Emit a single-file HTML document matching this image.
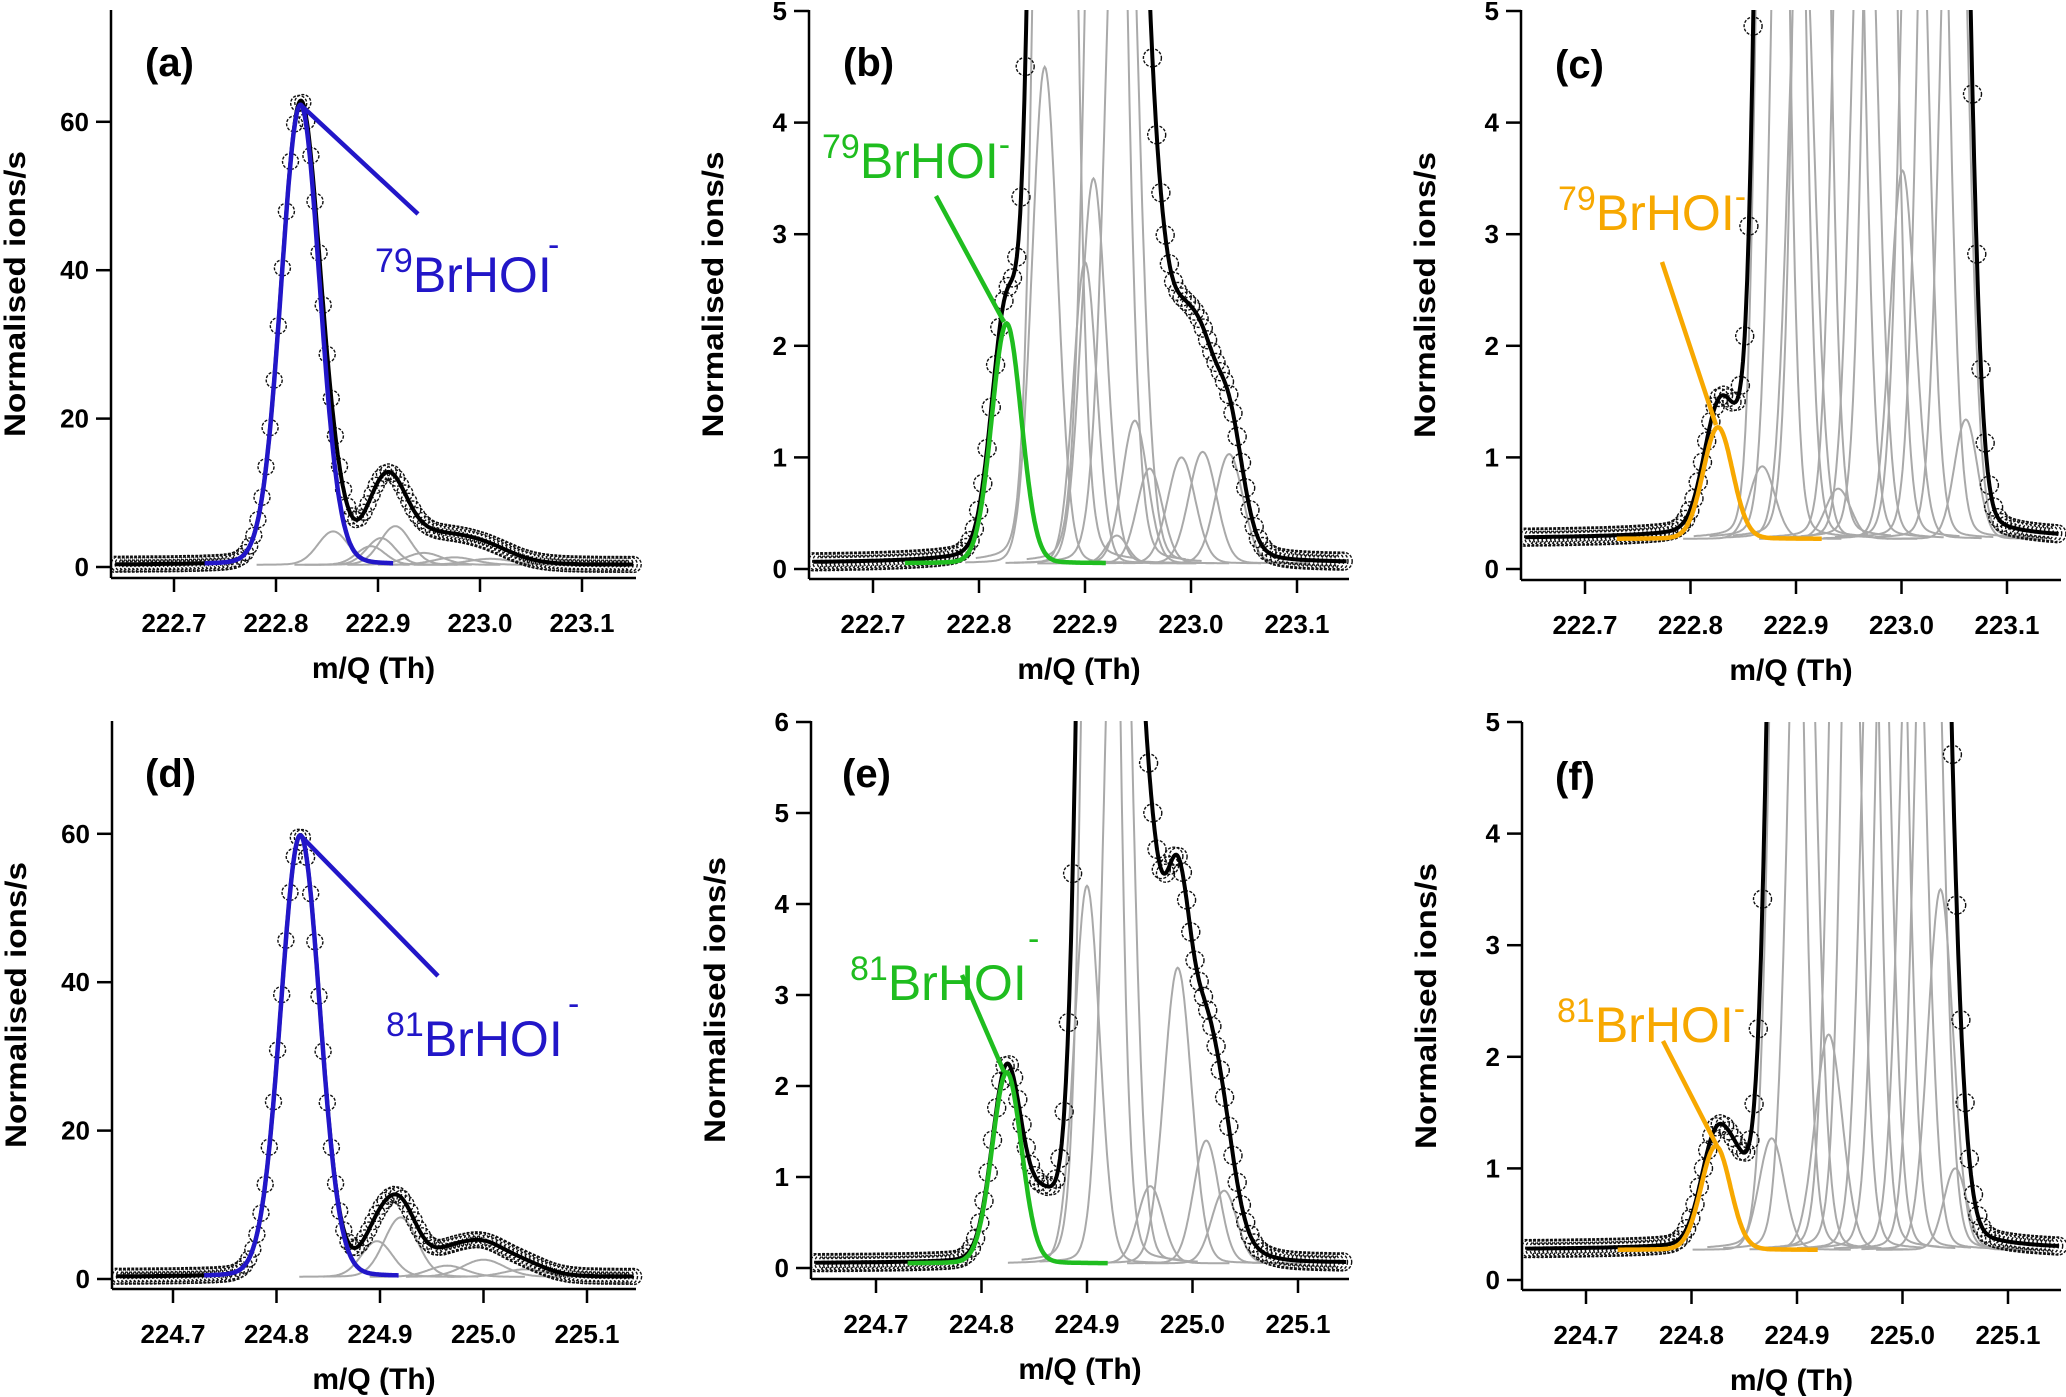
<!DOCTYPE html>
<html><head><meta charset="utf-8"><title>BrHOI peak fits</title>
<style>
html,body{margin:0;padding:0;background:#fff;}
svg{display:block;}
text{font-family:"Liberation Sans",sans-serif;}
.tk{font-weight:bold;font-size:26px;}
.ttl{font-weight:bold;font-size:30px;}
.pl{font-weight:bold;font-size:40px;}
.ann{font-size:50px;}
</style></head>
<body>
<svg id="fig" width="2066" height="1397" viewBox="0 0 2066 1397" xmlns="http://www.w3.org/2000/svg"></svg>
<script>
// ---- peak components (centre, height above baseline, sigma, kind: 0 gray, 1 highlighted, 2 hidden) ----
const aCenters=[222.824,222.856,222.893,222.903,222.917,222.945,222.975,223.01,222.915,222.98];
const aHeights=[62,4.5,2.5,3.6,5.2,1.6,1.0,0.8,2.5,2.4];
const aWidths=[0.019,0.015,0.014,0.014,0.015,0.018,0.02,0.022,0.02,0.04];
const aKinds=[1,0,0,0,0,0,0,0,2,2];
const aBase=0.3;

const bCenters=[222.826,222.862,222.872,222.9,222.908,222.92,222.935,222.93,222.947,222.961,222.991,223.011,223.036,223.0,222.966];
const bHeights=[2.15,4.45,20,2.7,3.45,14,8,0.25,1.28,0.85,0.95,1.0,0.98,0.6,1.5];
const bWidths=[0.014,0.012,0.013,0.011,0.012,0.014,0.014,0.01,0.012,0.012,0.013,0.013,0.013,0.03,0.015];
const bKinds=[1,0,0,0,0,0,0,0,0,0,0,0,0,2,2];
const bBase=0.05;

const cCenters=[222.826,222.868,222.878,222.893,222.905,222.915,222.94,222.95,222.965,222.98,223.001,223.012,223.03,223.05,223.061,222.845];
const cHeights=[1.0,0.65,14,12,6,15,0.45,10,7,12,3.3,8,10,8,1.07,0.35];
const cWidths=[0.014,0.012,0.011,0.012,0.012,0.012,0.012,0.012,0.012,0.012,0.012,0.012,0.012,0.012,0.011,0.012];
const cKinds=[1,0,0,0,0,0,0,0,0,0,0,0,0,0,0,2];
const cBase=0.27;

const dCenters=[224.823,224.897,224.92,224.965,225.0,225.04,224.915,224.99];
const dHeights=[59.5,4.8,8.0,1.5,2.3,1.0,0.5,2.2];
const dWidths=[0.019,0.015,0.016,0.018,0.02,0.02,0.02,0.04];
const dKinds=[1,0,0,0,0,0,2,2];
const dBase=0.3;

const eCenters=[224.824,224.9,224.913,224.93,224.96,224.986,225.013,225.03,224.952,224.86,225.0];
const eHeights=[2.1,4.15,20,10,0.85,3.25,1.35,0.8,3.5,0.6,0.8];
const eWidths=[0.014,0.012,0.012,0.012,0.012,0.013,0.012,0.012,0.014,0.015,0.03];
const eKinds=[1,0,0,0,0,0,0,0,2,2,2];
const eBase=0.05;

const fCenters=[224.823,224.876,224.89,224.905,224.93,224.945,224.96,224.975,224.99,225.01,225.036,225.05,225.025,224.845];
const fHeights=[0.93,1.0,12,8,1.93,10,14,8,10,7,3.23,0.73,8,0.45];
const fWidths=[0.014,0.012,0.012,0.012,0.013,0.012,0.012,0.012,0.012,0.012,0.012,0.011,0.012,0.012];
const fKinds=[1,0,0,0,0,0,0,0,0,0,0,0,0,2];
const fBase=0.27;

// axis ticks
const topXTicks=[222.7,222.8,222.9,223.0,223.1];
const botXTicks=[224.7,224.8,224.9,225.0,225.1];
const tickLabelsTop=["222.7","222.8","222.9","223.0","223.1"];
const tickLabelsBot=["224.7","224.8","224.9","225.0","225.1"];
const yTicks60=[0,20,40,60];
const yTicks5=[0,1,2,3,4,5];
const yTicks6=[0,1,2,3,4,5,6];

const NS="http://www.w3.org/2000/svg";
const svg=document.getElementById('fig');
function mk(tag,attrs,parent){const e=document.createElementNS(NS,tag);for(const k in attrs)e.setAttribute(k,attrs[k]);(parent||svg).appendChild(e);return e;}

function pv(d,s){const g=Math.exp(-d*d/(2*s*s));const gm=s*1.1774;const l=1/(1+(d/gm)*(d/gm));return 0.94*g+0.06*l;}

const panels=[
 {id:'a',lab:'(a)',C:aCenters,H:aHeights,W:aWidths,K:aKinds,base:aBase,ox:111,right:636,t0:174,k:1020,ref:222.7,y0:567,yk:7.42,top:10,yt:yTicks60,xt:topXTicks,xl:tickLabelsTop,hl:'#2216c8',hlR:[222.73,222.915],xaxis:578,r:8,
  ann:{sup:'79',tx:375,ty:292,lx2:418,ly2:214,minus:[548,256],sep:true},plx:145,ply:76},
 {id:'b',lab:'(b)',C:bCenters,H:bHeights,W:bWidths,K:bKinds,base:bBase,ox:809,right:1349,t0:873,k:1060,ref:222.7,y0:569,yk:111.6,top:10,yt:yTicks5,xt:topXTicks,xl:tickLabelsTop,hl:'#1fbd1f',hlR:[222.73,222.92],xaxis:579,r:9,
  ann:{sup:'79',tx:822,ty:178,lx1:[936,196],lx2:1004,ly2:322},plx:843,ply:76},
 {id:'c',lab:'(c)',C:cCenters,H:cHeights,W:cWidths,K:cKinds,base:cBase,ox:1521,right:2061,t0:1585,k:1055,ref:222.7,y0:569,yk:111.6,top:10,yt:yTicks5,xt:topXTicks,xl:tickLabelsTop,hl:'#f7a800',hlR:[222.73,222.925],xaxis:580,r:9,
  ann:{sup:'79',tx:1558,ty:230,lx1:[1662,262],lx2:1716,ly2:425},plx:1555,ply:78},
 {id:'d',lab:'(d)',C:dCenters,H:dHeights,W:dWidths,K:dKinds,base:dBase,ox:112,right:636,t0:173,k:1035,ref:224.7,y0:1279,yk:7.42,top:721,yt:yTicks60,xt:botXTicks,xl:tickLabelsBot,hl:'#2216c8',hlR:[224.73,224.918],xaxis:1289,r:8,
  ann:{sup:'81',tx:386,ty:1056,lx2:438,ly2:976,minus:[568,1015],sep:true},plx:145,ply:787},
 {id:'e',lab:'(e)',C:eCenters,H:eHeights,W:eWidths,K:eKinds,base:eBase,ox:811,right:1349,t0:876,k:1055,ref:224.7,y0:1268,yk:91,top:721,yt:yTicks6,xt:botXTicks,xl:tickLabelsBot,hl:'#1fbd1f',hlR:[224.73,224.92],xaxis:1279,r:9,
  ann:{sup:'81',tx:850,ty:1000,lx1:[962,975],lx2:1004,ly2:1072,minus:[1028,950],sep:true},plx:842,ply:787},
 {id:'f',lab:'(f)',C:fCenters,H:fHeights,W:fWidths,K:fKinds,base:fBase,ox:1522,right:2061,t0:1586,k:1055,ref:224.7,y0:1280,yk:111.6,top:722,yt:yTicks5,xt:botXTicks,xl:tickLabelsBot,hl:'#f7a800',hlR:[224.73,224.92],xaxis:1290,r:9,
  ann:{sup:'81',tx:1557,ty:1042,lx1:[1663,1041],lx2:1717,ly2:1146},plx:1555,ply:790}
];

panels.forEach(P=>{
  const g=mk('g',{});
  
  
  const X=v=>P.t0+(v-P.ref)*P.k;
  const Y=v=>P.y0-v*P.yk;
  const x0=P.ref+(P.ox-P.t0)/P.k, x1=P.ref+(P.right-P.t0)/P.k;
  const model=(x)=>{let s=P.base;for(let i=0;i<P.C.length;i++){s+=P.H[i]*pv(x-P.C[i],P.W[i]);}return s;};
  const cp=mk('clipPath',{id:'clip'+P.id},g);
  mk('rect',{x:P.ox,y:P.top,width:P.right-P.ox+10,height:P.xaxis-P.top},cp);
  const plot=mk('g',{'clip-path':'url(#clip'+P.id+')'},g);
  for(let i=0;i<P.C.length;i++){
    if(P.K[i]!==0)continue;
    let d='';const a=P.C[i]-0.075,b=P.C[i]+0.075;
    for(let x=a;x<=b+1e-9;x+=0.001){d+=(d?'L':'M')+X(x).toFixed(1)+' '+Y(P.base+P.H[i]*pv(x-P.C[i],P.W[i])).toFixed(1);}
    const pth=mk('path',{d:d,fill:'none',stroke:'#a9a9a9','stroke-width':2},plot);
    
    
  }
  for(let x=x0+0.004;x<x1-0.002;x+=0.004){
    const v=model(x);const cy=Y(v);
    if(cy<P.top-20)continue;
    const c=mk('circle',{cx:X(x).toFixed(1),cy:cy.toFixed(1),r:P.r,fill:'none',stroke:'#111','stroke-width':1.4,'stroke-dasharray':'3 1.5'},plot);
    
    
  }
  let d='';
  for(let x=x0+0.004;x<x1-0.002;x+=0.0008){d+=(d?'L':'M')+X(x).toFixed(1)+' '+Math.max(P.top-30,Y(model(x))).toFixed(1);}
  const fit=mk('path',{d:d,fill:'none',stroke:'#000','stroke-width':4,'stroke-linejoin':'round'},plot);
  
  
  const hi=P.K.indexOf(1);
  d='';
  for(let x=P.hlR[0];x<=P.hlR[1];x+=0.0008){d+=(d?'L':'M')+X(x).toFixed(1)+' '+Y(P.base+P.H[hi]*pv(x-P.C[hi],P.W[hi])).toFixed(1);}
  const hp=mk('path',{d:d,fill:'none',stroke:P.hl,'stroke-width':4.5,'stroke-linejoin':'round'},plot);
  
  
  const ya=mk('line',{x1:P.ox,y1:P.top,x2:P.ox,y2:P.xaxis,stroke:'#000','stroke-width':2.5},g);
  
  
  const xa=mk('line',{x1:P.ox,y1:P.xaxis,x2:P.right,y2:P.xaxis,stroke:'#000','stroke-width':2.5},g);
  
  
  P.yt.forEach(t=>{
    mk('line',{x1:P.ox-15,y1:Y(t),x2:P.ox,y2:Y(t),stroke:'#000','stroke-width':2.5},g);
    const tl=mk('text',{x:P.ox-22,y:Y(t)+9,'text-anchor':'end',class:'tk'},g);
    tl.textContent=String(t);
    
    
  });
  P.xt.forEach((t,i)=>{
    mk('line',{x1:X(t),y1:P.xaxis,x2:X(t),y2:P.xaxis+14,stroke:'#000','stroke-width':2.5},g);
    const tl=mk('text',{x:X(t),y:P.xaxis+54,'text-anchor':'middle',class:'tk'},g);
    tl.textContent=P.xl[i];
    
    
  });
  const xt=mk('text',{x:(P.ox+P.right)/2,y:P.xaxis+100,'text-anchor':'middle',class:'ttl'},g);
  xt.textContent='m/Q (Th)';
  
  
  const ycx=P.ox-86, ycy=(P.top+P.xaxis)/2;
  const yt=mk('text',{x:ycx,y:ycy,'text-anchor':'middle',class:'ttl',transform:'rotate(-90 '+ycx+' '+ycy+')',textLength:286,lengthAdjust:'spacingAndGlyphs'},g);
  yt.textContent='Normalised ions/s';
  
  
  const pl=mk('text',{x:P.plx,y:P.ply,class:'pl'},g);
  pl.textContent=P.lab;
  
  
  const A=P.ann;
  const lx1=A.lx1?A.lx1:[X(P.C[hi]),Y(P.base+P.H[hi])];
  const al=mk('line',{x1:lx1[0],y1:lx1[1],x2:A.lx2,y2:A.ly2,stroke:P.hl,'stroke-width':4.5},g);
  
  
  const at=mk('text',{x:A.tx,y:A.ty,class:'ann',fill:P.hl},g);
  
  
  const s1=mk('tspan',{'font-size':34,dy:-20},at);s1.textContent=A.sup;
  const s2=mk('tspan',{'font-size':50,dy:20},at);s2.textContent='BrHOI';
  if(A.sep&&A.minus){
    const m=mk('text',{x:A.minus[0],y:A.minus[1],'font-size':34,fill:P.hl},g);m.textContent='-';
  } else {
    const s3=mk('tspan',{'font-size':34,dy:-22},at);s3.textContent='-';
  }
});
</script>
</body></html>
